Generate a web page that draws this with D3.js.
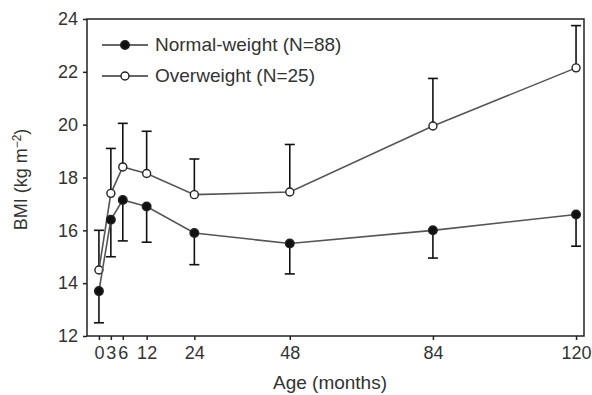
<!DOCTYPE html>
<html>
<head>
<meta charset="utf-8">
<script src="https://cdn.jsdelivr.net/npm/d3@7"></script>
<style>
  body { margin: 0; background: #fff; }
  text { font-family: "Liberation Sans", Arial, sans-serif; fill: #333; }
</style>
</head>
<body>
<div id="chart"></div>
<script>
// age in months
const ages = [0, 3, 6, 12, 24, 48, 84, 120];
const xTicks = [0, 3, 6, 12, 24, 48, 84, 120];
const yTicks = [12, 14, 16, 18, 20, 22, 24];

// mean BMI and SD for each group
const normalMean = [13.7, 16.4, 17.15, 16.9, 15.9, 15.5, 16.0, 16.6];
const normalSD   = [1.2, 1.4, 1.55, 1.35, 1.2, 1.15, 1.05, 1.2];
const overMean   = [14.5, 17.4, 18.4, 18.15, 17.35, 17.45, 19.95, 22.15];
const overSD     = [1.5, 1.7, 1.65, 1.6, 1.35, 1.8, 1.8, 1.6];

const seriesNames = ["Normal-weight (N=88)", "Overweight (N=25)"];

const width = 592, height = 395;
const margin = { top: 19, right: 8, bottom: 59, left: 87 };

const svg = d3.select('#chart').append('svg')
    .attr('width', width)
    .attr('height', height);

const x = d3.scaleLinear()
    .domain([-3, 122])
    .range([margin.left, width - margin.right]);

const y = d3.scaleLinear()
    .domain([12, 24])
    .range([height - margin.bottom, margin.top]);

// axes
const xAxis = svg.append('g')
    .attr('transform', `translate(0,${height - margin.bottom})`)
    .call(d3.axisBottom(x).tickValues(xTicks).tickSize(4).tickPadding(6).tickSizeOuter(0));
const yAxis = svg.append('g')
    .attr('transform', `translate(${margin.left},0)`)
    .call(d3.axisLeft(y).tickValues(yTicks).tickSize(4).tickPadding(5).tickSizeOuter(0));

[xAxis, yAxis].forEach(ax => {
    ax.select('.domain').remove();
    ax.selectAll('line').attr('stroke', '#222').attr('stroke-width', 1.5);
    ax.selectAll('text')
        .style('font-size', '18px')
        .style('fill', '#333')
        .style('font-family', '"Liberation Sans", Arial, sans-serif');
});

// frame
svg.append('rect')
    .attr('x', margin.left)
    .attr('y', margin.top)
    .attr('width', width - margin.left - margin.right)
    .attr('height', height - margin.top - margin.bottom)
    .attr('fill', 'none')
    .attr('stroke', '#222')
    .attr('stroke-width', 1.5);

// axis titles
svg.append('text')
    .attr('x', 330)
    .attr('y', 389)
    .attr('text-anchor', 'middle')
    .style('font-size', '19px')
    .text('Age (months)');

const yl = svg.append('text')
    .attr('transform', `translate(27,${(y(12) + y(24)) / 2 + 2}) rotate(-90)`)
    .attr('text-anchor', 'middle')
    .style('font-size', '18px');
yl.append('tspan').text('BMI (kg m');
yl.append('tspan').attr('dy', -6).style('font-size', '12px').text('\u22122');
yl.append('tspan').attr('dy', 6).text(')');

const normal = ages.map((a, i) => ({ age: a, mean: normalMean[i], sd: normalSD[i] }));
const over = ages.map((a, i) => ({ age: a, mean: overMean[i], sd: overSD[i] }));

const line = d3.line().x(d => x(d.age)).y(d => y(d.mean));

function drawSeries(data, dir, filled) {
    const g = svg.append('g');
    // error bars (one side only)
    g.selectAll('line.err').data(data).enter().append('line')
        .attr('x1', d => x(d.age)).attr('x2', d => x(d.age))
        .attr('y1', d => y(d.mean))
        .attr('y2', d => y(d.mean + dir * d.sd))
        .attr('stroke', '#111').attr('stroke-width', 1.6);
    g.selectAll('line.cap').data(data).enter().append('line')
        .attr('x1', d => x(d.age) - 5).attr('x2', d => x(d.age) + 5)
        .attr('y1', d => y(d.mean + dir * d.sd))
        .attr('y2', d => y(d.mean + dir * d.sd))
        .attr('stroke', '#111').attr('stroke-width', 1.6);
    g.append('path').datum(data)
        .attr('d', line)
        .attr('fill', 'none')
        .attr('stroke', '#555')
        .attr('stroke-width', 1.6);
    g.selectAll('circle').data(data).enter().append('circle')
        .attr('cx', d => x(d.age)).attr('cy', d => y(d.mean))
        .attr('r', filled ? 4.3 : 4)
        .attr('fill', filled ? '#111' : '#fff')
        .attr('stroke', '#222').attr('stroke-width', 1.4);
}

drawSeries(over, 1, false);
drawSeries(normal, -1, true);

// legend
const legend = svg.append('g').attr('transform', 'translate(102,45)');
seriesNames.forEach((name, i) => {
    const row = legend.append('g').attr('transform', `translate(0,${i * 31})`);
    row.append('line').attr('x1', 0).attr('x2', 46).attr('y1', 0).attr('y2', 0)
        .attr('stroke', '#333').attr('stroke-width', 1.6);
    row.append('circle').attr('cx', 23).attr('cy', 0)
        .attr('r', i === 0 ? 4.3 : 4)
        .attr('fill', i === 0 ? '#111' : '#fff')
        .attr('stroke', '#222').attr('stroke-width', 1.4);
    row.append('text').attr('x', 53).attr('y', 6)
        .style('font-size', '19px')
        .text(name);
});
</script>
</body>
</html>
